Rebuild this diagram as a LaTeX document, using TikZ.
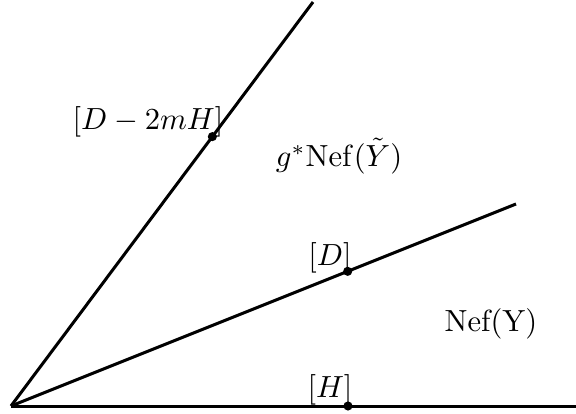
\documentclass[tikz,border=0pt]{standalone}
\usepackage{tikz}
\usetikzlibrary{positioning,calc}

\begin{document}
\begin{tikzpicture}[
  x=0.35pt,y=-0.35pt,
  ray/.style={draw=black,line width=1.05pt},
  mark dot/.style={circle,fill=black,inner sep=0pt,minimum size=3.2pt},
  lbl/.style={inner sep=0pt,font=\normalsize,scale=1.07}
]
\useasboundingbox (0,0) rectangle (576,414);
\coordinate (origin) at (11,406);
\coordinate (upperEnd) at (313,2);
\coordinate (middleEnd) at (516,204);
\coordinate (lowerEnd) at (576,406);
\draw[ray] (origin) -- (upperEnd);
\draw[ray] (origin) -- (middleEnd);
\draw[ray] (origin) -- (lowerEnd);
\node[mark dot] (dotDmH) at ($(origin)!0.6667!(upperEnd)$) {};
\node[mark dot] (dotD) at ($(origin)!0.6667!(middleEnd)$) {};
\node[mark dot] (dotH) at (348,406) {};
\node[lbl] (labDmH) at (148,122) {$[D-2mH]$};
\node[lbl] (labD) at (330,258) {$[D]$};
\node[lbl] (labH) at (330,390) {$[H]$};
\node[lbl] (coneG) at (339,156) {$g^*\mathrm{Nef}(\tilde{Y})$};
\node[lbl] (coneY) at (491,324) {Nef(Y)};
\end{tikzpicture}
\end{document}
